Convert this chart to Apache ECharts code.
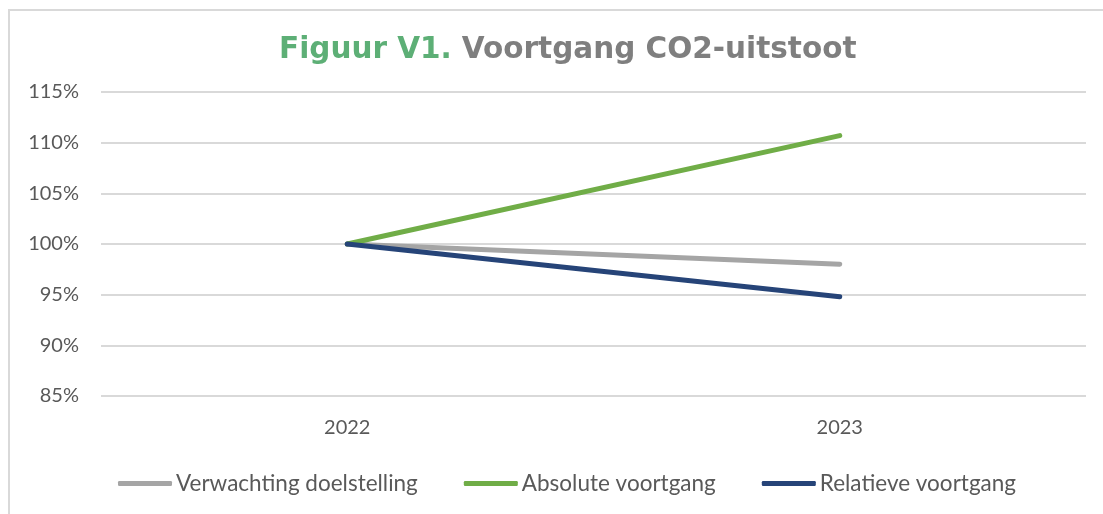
<!DOCTYPE html>
<html>
<head>
<meta charset="utf-8">
<script src="https://cdn.jsdelivr.net/npm/echarts@6/dist/echarts.min.js"></script>
<style>
  html, body { margin: 0; padding: 0; background: #fff; overflow: hidden; }
  #frame { position: absolute; left: 8px; top: 9px; width: 1120px; height: 540px; border: 2px solid #d9d9d9; box-sizing: border-box; }
  #chart { position: absolute; left: 0; top: 0; width: 1103px; height: 514px; }
</style>
</head>
<body>
<div id="frame"></div>
<div id="chart"></div>
<script>
// Data
const years = ['2022', '2023'];
const verwachting = [100, 98.0];
const absoluut = [100, 110.7];
const relatief = [100, 94.8];

const chart = echarts.init(document.getElementById('chart'));

const lineSeries = (name, data, color) => ({
  name: name,
  type: 'line',
  data: data,
  symbol: 'none',
  lineStyle: { color: color, width: 5, cap: 'round' },
  itemStyle: { color: color }
});

const option = {
  animation: false,
  title: {
    text: '{g|Figuur V1.}  {d|Voortgang CO2-uitstoot}',
    left: 274,
    top: 30,
    textStyle: {
      rich: {
        g: { fontFamily: 'DejaVu Sans', fontWeight: 'bold', fontSize: 29.5, color: '#5daf76' },
        d: { fontFamily: 'DejaVu Sans', fontWeight: 'bold', fontSize: 29.5, color: '#7f7f7f' }
      }
    }
  },
  legend: {
    bottom: 14,
    left: 113,
    icon: 'roundRect',
    itemWidth: 54,
    itemHeight: 5,
    itemGap: 46,
    textStyle: { fontFamily: 'Lato', fontSize: 22.5, color: '#595959', padding: [0, 0, 0, -1] },
    data: ['Verwachting doelstelling', 'Absolute voortgang', 'Relatieve voortgang']
  },
  grid: { left: 101, right: 17, top: 92, bottom: 118 },
  xAxis: {
    type: 'category',
    data: years,
    boundaryGap: true,
    axisLine: { show: false },
    axisTick: { show: false },
    axisLabel: { fontFamily: 'Lato', fontSize: 20, color: '#595959', margin: 22 }
  },
  yAxis: {
    type: 'value',
    min: 85,
    max: 115,
    interval: 5,
    axisLabel: { fontFamily: 'Lato', fontSize: 20, color: '#595959', margin: 22, formatter: '{value}%' },
    splitLine: { lineStyle: { color: '#d9d9d9', width: 2 } }
  },
  series: [
    lineSeries('Verwachting doelstelling', verwachting, '#a5a5a5'),
    lineSeries('Absolute voortgang', absoluut, '#70ad47'),
    lineSeries('Relatieve voortgang', relatief, '#264478')
  ]
};

chart.setOption(option);
</script>
</body>
</html>
